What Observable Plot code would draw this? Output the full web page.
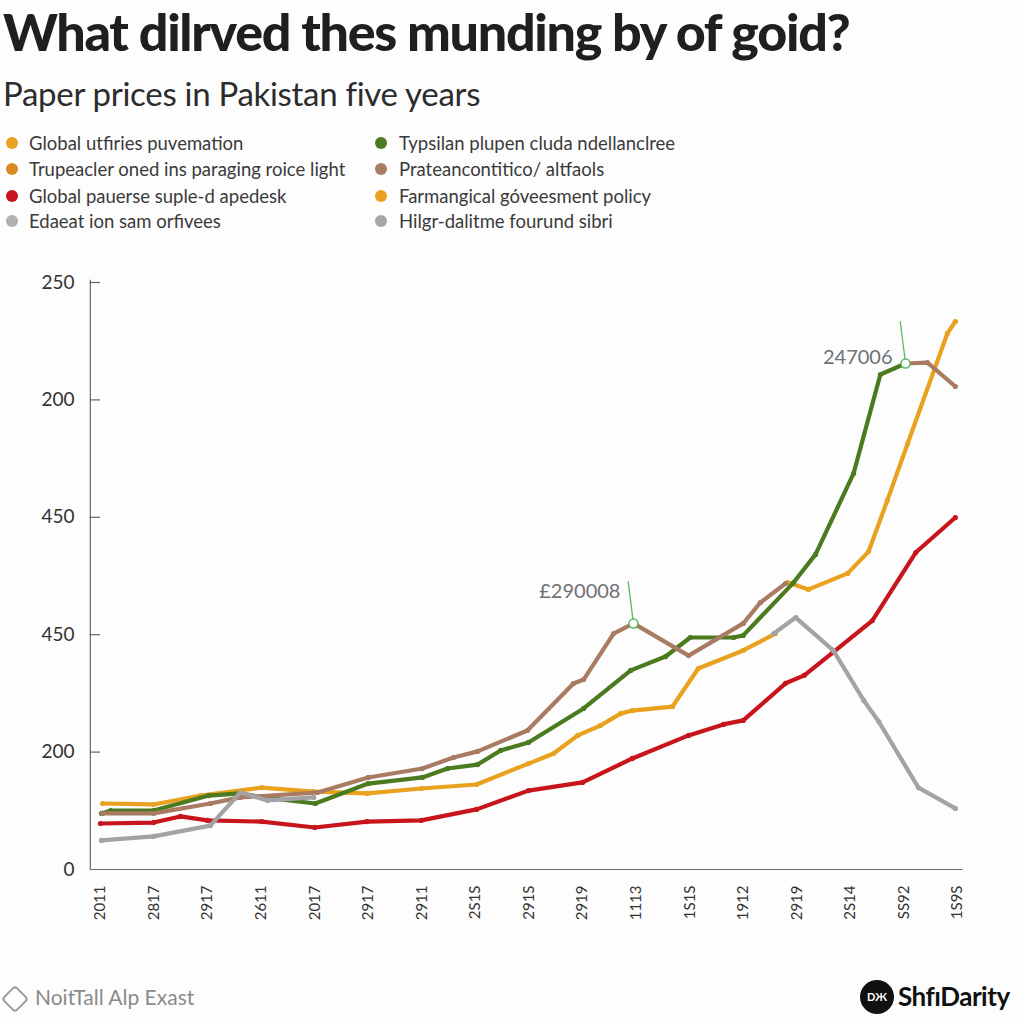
<!DOCTYPE html>
<html>
<head>
<meta charset="utf-8">
<script src="https://cdn.jsdelivr.net/npm/d3@7"></script>
<script src="https://cdn.jsdelivr.net/npm/@observablehq/plot@0.6"></script>
<style>
  html, body { margin: 0; padding: 0; background: #fdfdfd; }
  #page { position: relative; width: 1024px; height: 1024px; overflow: hidden; font-family: Lato, "Noto Sans", sans-serif; }
  .abs { position: absolute; white-space: nowrap; }
  #title { left: 3px; top: 0px; font-size: 52px; font-weight: 900; color: #1f1f22; letter-spacing: -1.3px; }
  #subtitle { left: 3px; top: 73px; font-size: 33px; color: #2c2c2c; letter-spacing: -0.3px; }
  .leg { font-size: 18.5px; color: #3a3a3a; line-height: 20px; }
  .legdot { position: absolute; width: 12px; height: 12px; border-radius: 50%; }
  #chart { left: 0; top: 240px; }
  #foot-left { left: 35px; top: 984px; font-size: 21px; color: #8a8a8a; }
  #foot-right { left: 898px; top: 980px; font-size: 26px; font-weight: 700; color: #111; letter-spacing: -0.5px; }
  #badge { left: 860px; top: 980px; width: 34px; height: 34px; border-radius: 50%; background: #111; color: #fff; font-size: 11px; font-weight: 700; text-align: center; line-height: 34px; }
  #icon { left: 5px; top: 989px; width: 16px; height: 16px; border: 2px solid #9a9a9a; border-radius: 4px; transform: rotate(45deg); }
</style>
</head>
<body>
<div id="page">
  <div id="title" class="abs">What dilrved thes munding by of goid?</div>
  <div id="subtitle" class="abs">Paper prices in Pakistan five years</div>
  <div id="legend"></div>
  <div id="chart" class="abs"></div>
  <div id="icon" class="abs"></div>
  <div id="foot-left" class="abs">NoitTall Alp Exast</div>
  <div id="badge" class="abs">DЖ</div>
  <div id="foot-right" class="abs">ShfıDarity</div>
</div>
<script>
// ---- Data ----
const xTickLabels = ["2011","2817","2917","2611","2017","2917","2911","2S1S","291S","2919","1113","1S1S","1912","2919","2S14","SS92","1S9S"];
const yTickValues = [0, 50, 100, 150, 200, 250];
const yTickLabels = ["0", "200", "450", "450", "200", "250"];

const legendLabels = [
  "Global utfiries puvemation", "Trupeacler oned ins paraging roice light",
  "Global pauerse suple-d apedesk", "Edaeat ion sam orfivees",
  "Typsilan plupen cluda ndellanclree", "Prateancontitico/ altfaols",
  "Farmangical góveesment policy", "Hilgr-dalitme fourund sibri"
];
const legendColors = ["#e8a21f", "#d98a22", "#c8151b", "#b0b0b3", "#4b7a1f", "#a97b63", "#e8a21f", "#a6a6a9"];

// series (x = tick position index, y = value; null = gap)
const redX = [0, 0.99, 1.49, 2.0, 3.01, 4.0, 4.98, 5.99, 7.02, 7.99, 9.0, 9.93, 10.98, 11.63, 12.0, 12.79, 13.14, 13.67, 14.41, 15.22, 15.96];
const redY = [19.6, 20.0, 22.6, 20.9, 20.4, 17.9, 20.4, 20.9, 25.6, 33.6, 37.1, 47.3, 57.1, 61.8, 63.5, 79.3, 82.7, 92.4, 106.0, 135.0, 149.9];

const orangeX = [0.04, 0.99, 1.87, 3.01, 3.98, 4.98, 5.99, 7.02, 7.99, 8.46, 8.91, 9.33, 9.71, 9.93, 10.68, 11.16, 12.0, 12.6, 12.7, 12.83, 13.22, 13.95, 14.34, 14.69, 15.07, 15.81, 15.96];
const orangeY = [28.1, 27.7, 31.5, 34.9, 33.2, 32.4, 34.5, 36.2, 45.1, 49.4, 57.1, 61.3, 66.4, 67.7, 69.4, 85.6, 93.3, 100.5, null, 122.2, 119.3, 126.1, 135.4, 157.2, 181.4, 228.3, 233.4];

const greenX = [0.02, 0.19, 0.99, 2.02, 2.61, 3.04, 4.01, 5.0, 6.01, 6.48, 7.04, 7.47, 7.99, 9.02, 9.9, 10.55, 11.01, 11.82, 12.0, 12.94, 13.35, 14.06, 14.56, 15.03];
const greenY = [23.9, 25.1, 25.1, 31.5, 32.4, 30.7, 28.1, 36.6, 39.2, 43.0, 44.7, 50.7, 54.1, 68.6, 84.8, 90.7, 98.8, 98.8, 99.7, 122.2, 134.2, 168.7, 210.8, 215.5];

const brownX = [0.04, 0.99, 2.05, 2.61, 4.05, 5.0, 6.01, 6.59, 7.04, 7.97, 8.83, 9.02, 9.58, 9.95, 10.98, 12.0, 12.32, 12.79, 13.5, 15.03, 15.44, 15.96];
const brownY = [23.9, 23.9, 28.1, 30.7, 32.8, 39.2, 43.0, 47.7, 50.3, 59.2, 79.2, 80.9, 100.5, 104.8, 91.1, 104.8, 113.7, 121.8, null, 215.5, 215.9, 205.7];

const grayX = [0.02, 0.99, 2.05, 2.61, 3.12, 3.98, 8.0, 12.57, 12.98, 13.68, 14.25, 14.53, 15.27, 15.96];
const grayY = [12.4, 14.1, 18.7, 32.8, 29.4, 30.7, null, 100.5, 107.3, 93.3, 72.0, 63.0, 34.9, 26.0];

const annotLabels = ["£290008", "247006"];
const annotX = [9.95, 15.03];
const annotY = [104.8, 215.5];
const annotDy = [-32, -6];

// ---- Legend ----
const legend = document.getElementById("legend");
legendLabels.forEach((label, i) => {
  const col = Math.floor(i / 4), row = i % 4;
  const top = [133, 159, 186, 211][row];
  const dot = document.createElement("div");
  dot.className = "legdot";
  dot.style.left = (col ? 375 : 6) + "px";
  dot.style.top = (top + 4) + "px";
  dot.style.background = legendColors[i];
  legend.appendChild(dot);
  const t = document.createElement("div");
  t.className = "abs leg";
  t.style.left = (col ? 399 : 29) + "px";
  t.style.top = top + "px";
  t.textContent = label;
  legend.appendChild(t);
});

// ---- Chart ----
const toRows = (xs, ys) => xs.map((x, i) => ({x, y: ys[i] == null ? NaN : ys[i]}));
const series = [
  {rows: toRows(redX, redY), color: "#c8151b"},
  {rows: toRows(orangeX, orangeY), color: "#e8a21f"},
  {rows: toRows(greenX, greenY), color: "#4b7a1f"},
  {rows: toRows(brownX, brownY), color: "#a97b63"},
  {rows: toRows(grayX, grayY), color: "#a3a3a7"}
];
const annots = annotLabels.map((label, i) => ({label, x: annotX[i], y: annotY[i], dy: annotDy[i]}));

const marks = [];
marks.push(Plot.ruleY([0], {x1: -0.19, x2: 16.1, stroke: "#666", strokeWidth: 1.2}));
marks.push(Plot.ruleX([-0.19], {y1: 0, y2: 251, stroke: "#666", strokeWidth: 1.2}));
marks.push(Plot.ruleY(yTickValues.slice(1), {x1: -0.19, x2: 0, stroke: "#666", strokeWidth: 1.2}));
marks.push(Plot.axisY(yTickValues, {label: null, tickFormat: d => yTickLabels[yTickValues.indexOf(d)], tickSize: 0, tickPadding: 14, fontSize: 19}));
marks.push(Plot.axisX(d3.range(xTickLabels.length), {label: null, tickFormat: d => xTickLabels[d], tickRotate: -90, tickSize: 0, tickPadding: 16, fontSize: 15}));
for (const s of series) {
  marks.push(Plot.line(s.rows, {x: "x", y: "y", stroke: s.color, strokeWidth: 4.2, strokeLinejoin: "round", strokeLinecap: "round"}));
  marks.push(Plot.dot(s.rows.filter(d => !isNaN(d.y)), {x: "x", y: "y", r: 2.6, fill: s.color}));
}
marks.push(Plot.link(annots, {x1: "x", y1: "y", x2: d => d.x - 0.1, y2: d => d.y + 18, stroke: "#5cb860", strokeWidth: 1.3}));
marks.push(Plot.dot(annots, {x: "x", y: "y", r: 4.5, fill: "#fff", stroke: "#5cb860", strokeWidth: 1.5}));
marks.push(Plot.text(annots, {x: "x", y: "y", text: "label", textAnchor: "end", dx: -13, fontSize: 20, fill: "#707075"}));

const chart = Plot.plot({
  width: 1024,
  height: 720,
  marginLeft: 88,
  marginRight: 62,
  marginTop: 42,
  marginBottom: 91,
  x: {domain: [0, 16], range: [100, 957]},
  y: {domain: [0, 250], range: [629, 42]},
  style: {fontFamily: "Lato, 'Noto Sans', sans-serif", color: "#333", background: "transparent", overflow: "visible"},
  marks
});
document.getElementById("chart").appendChild(chart);

// per-label vertical offsets for annotation text
const texts = chart.querySelectorAll("g[aria-label='text'] text");
texts.forEach((t, i) => { t.setAttribute("dy", annots[i].dy + "px"); });
</script>
</body>
</html>
